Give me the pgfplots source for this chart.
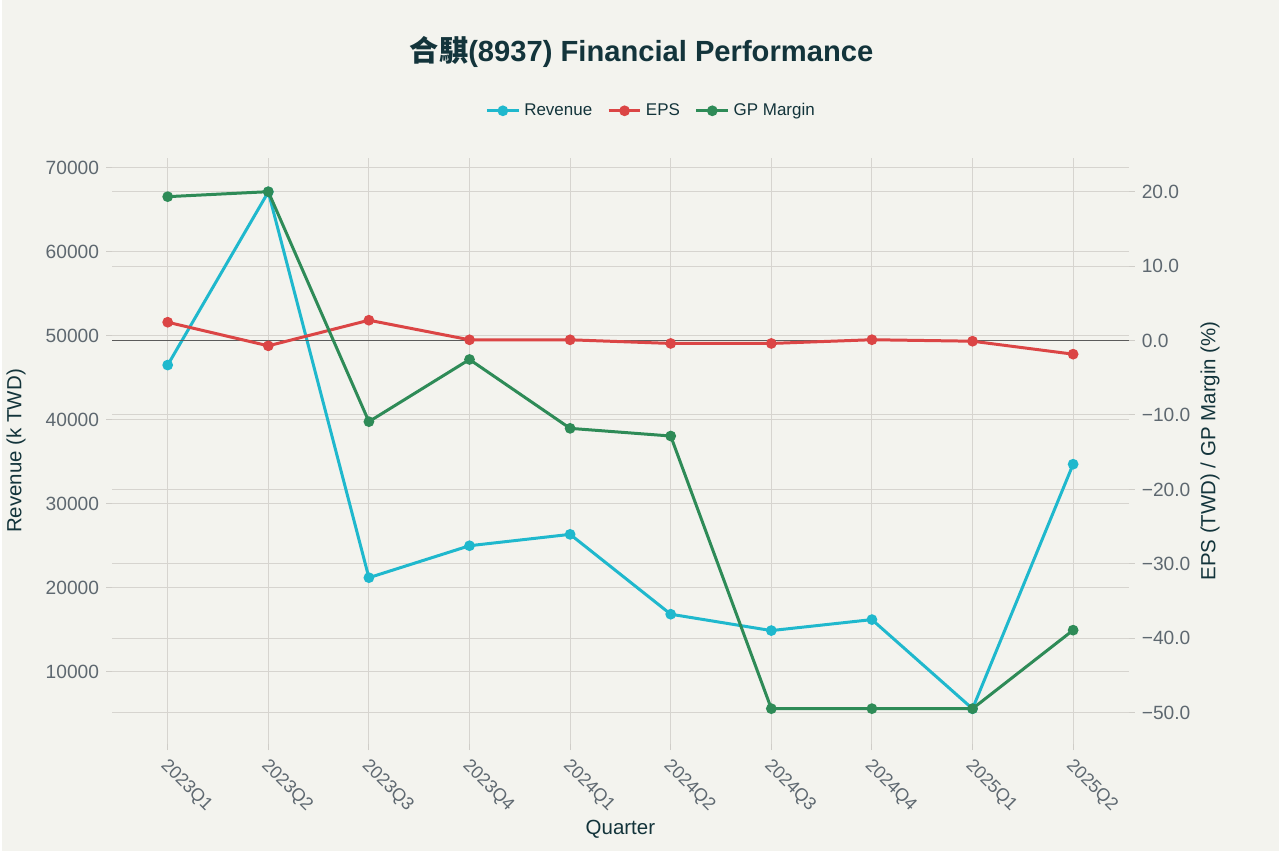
\documentclass[border=0pt]{standalone}
\usepackage{pgfplots}
\pgfplotsset{compat=1.18}
\usepackage{fontspec}
\setmainfont{Liberation Sans}
\newfontfamily\cjk{Noto Sans CJK TC}
\definecolor{bgc}{HTML}{F3F3EE}
\definecolor{revc}{HTML}{1FB8CD}
\definecolor{epsc}{HTML}{DB4545}
\definecolor{gpc}{HTML}{2E8B57}
\definecolor{gridc}{HTML}{D6D4CF}
\definecolor{tickc}{HTML}{CFCDC8}
\definecolor{labc}{HTML}{5E6870}
\definecolor{titlec}{HTML}{13343B}
\definecolor{zeroc}{HTML}{5B5B5B}
\begin{document}
\begin{tikzpicture}
\fill[bgc] (0,0) rectangle (639.5pt,426.5pt);
\node[font=\fontsize{14.6}{17}\selectfont\bfseries, text=titlec] at (320.25pt,400.5pt) {{\cjk 合騏}(8937) Financial Performance};
\begin{axis}[
  at={(55pt,53.75pt)}, anchor=south west,
  scale only axis, width=509.25pt, height=293.75pt,
  xmin=-0.553, xmax=9.553,
  ymin=1387, ymax=71188,
  axis x line*=bottom, axis y line*=left,
  axis line style={draw=none},
  xtick={0,1,2,3,4,5,6,7,8,9},
  xticklabels={2023Q1,2023Q2,2023Q3,2023Q4,2024Q1,2024Q2,2024Q3,2024Q4,2025Q1,2025Q2},
  ytick={10000,20000,30000,40000,50000,60000,70000},
  yticklabels={10000,20000,30000,40000,50000,60000,70000},
  extra y ticks={5119,13982,22846,31709,40573,49437,58300,67164},
  extra y tick labels={},
  extra y tick style={major tick length=0pt},
  xmajorgrids, ymajorgrids,
  grid style={color=gridc, line width=0.5pt},
  tick align=outside,
  major tick length=3pt,
  tick style={color=tickc, line width=0.5pt},
  ticklabel style={font=\fontsize{9.6}{11}\selectfont, text=labc},
  xticklabel style={xshift=-4.5pt, yshift=-4pt, rotate=-45, anchor=west, font=\fontsize{9}{11}\selectfont},
  scaled y ticks=false,
  xlabel={Quarter}, ylabel={Revenue (k TWD)},
  xlabel style={at={(axis description cs:0.5,-0.1455)}, anchor=center, font=\fontsize{10.25}{12}\selectfont, text=titlec},
  ylabel style={at={(axis description cs:-0.0943,0.5)}, anchor=center, font=\fontsize{10.25}{12}\selectfont, text=titlec},
]
\addplot[revc, line width=1.5pt, mark=*, mark size=1.9pt] coordinates {
(0,46511) (1,67113) (2,21205) (3,25007) (4,26361) (5,16856) (6,14908) (7,16215) (8,5605) (9,34710)};
\end{axis}
\begin{axis}[
  at={(55pt,53.75pt)}, anchor=south west,
  scale only axis, width=509.25pt, height=293.75pt,
  xmin=-0.553, xmax=9.553,
  ymin=-54.21, ymax=24.54,
  axis x line=none, axis y line*=right,
  axis line style={draw=none},
  ytick={-50,-40,-30,-20,-10,0,10,20},
  yticklabels={−50.0,−40.0,−30.0,−20.0,−10.0,0.0,10.0,20.0},
  tick align=outside,
  major tick length=3pt,
  tick style={color=tickc, line width=0.5pt},
  ticklabel style={font=\fontsize{9.6}{11}\selectfont, text=labc},
  ylabel={EPS (TWD) / GP Margin (\%)},
  ylabel style={at={(axis description cs:1.080,0.5)}, anchor=center, font=\fontsize{10.25}{12}\selectfont, text=titlec},
  legend columns=3,
  legend style={at={(axis description cs:0.5312,1.080)}, anchor=center, draw=none, fill=none,
    font=\fontsize{8.5}{10}\selectfont, text=titlec,
    /tikz/every even column/.append style={column sep=5.5pt}},
  legend cell align=left,
  legend image code/.code={\draw[mark repeat=2,mark phase=2] plot coordinates {(0cm,0cm) (0.28cm,0cm) (0.56cm,0cm)};},
]
\addlegendimage{revc, line width=1.5pt, mark=*, mark size=1.9pt}
\addlegendentry{Revenue}
\addplot[zeroc, line width=0.6pt, forget plot] coordinates {(-0.553,0) (9.553,0)};
\addplot[epsc, line width=1.5pt, mark=*, mark size=1.9pt] coordinates {
(0,2.45) (1,-0.72) (2,2.72) (3,0.09) (4,0.09) (5,-0.4) (6,-0.4) (7,0.1) (8,-0.1) (9,-1.84)};
\addlegendentry{EPS}
\addplot[gpc, line width=1.5pt, mark=*, mark size=1.9pt] coordinates {
(0,19.31) (1,19.98) (2,-10.9) (3,-2.55) (4,-11.8) (5,-12.83) (6,-49.44) (7,-49.44) (8,-49.44) (9,-38.9)};
\addlegendentry{GP Margin}
\end{axis}
\end{tikzpicture}
\end{document}
